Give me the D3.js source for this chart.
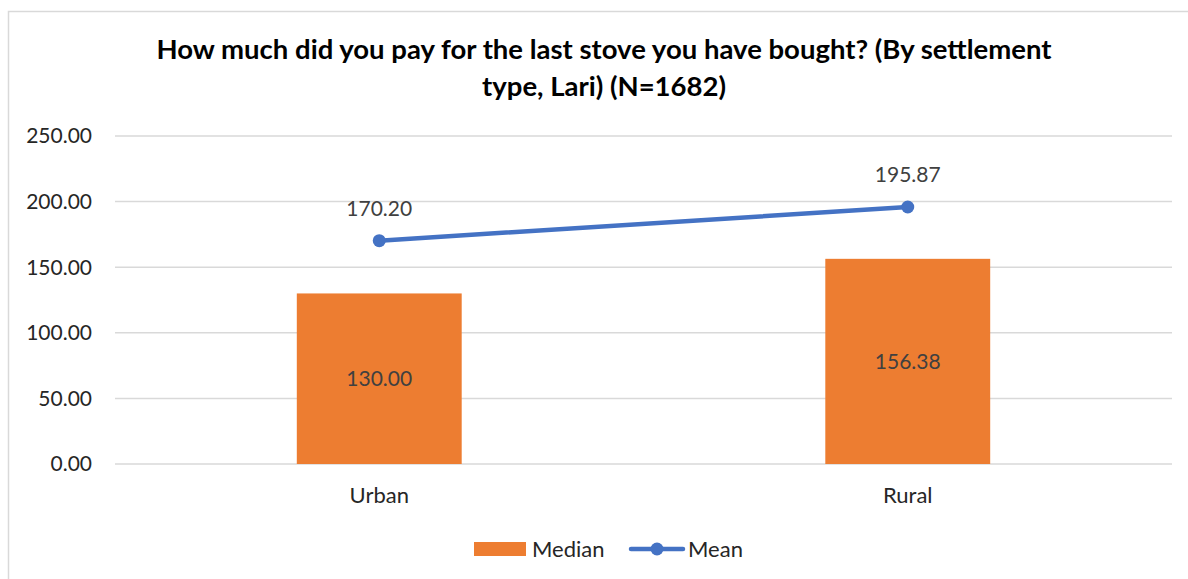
<!DOCTYPE html>
<html>
<head>
<meta charset="utf-8">
<script src="https://cdn.jsdelivr.net/npm/d3@7"></script>
<style>
  body { margin: 0; background: #fff; }
  text { font-family: Lato, "Open Sans", sans-serif; }
</style>
</head>
<body>
<div id="chart"></div>
<script>
const width = 1188;
const height = 579;

// data
const categories = ["Urban", "Rural"];
const medianValues = [130.00, 156.38];
const meanValues = [170.20, 195.87];
const yTicks = [0, 50, 100, 150, 200, 250];
const seriesNames = ["Median", "Mean"];

const orange = "#ED7D31";
const blue = "#4472C4";
const numSize = 21;
const wordSize = 22;

const margin = {left: 115, right: 16, top: 136, bottom: 115};

const svg = d3.select("#chart")
  .append("svg")
    .attr("width", width)
    .attr("height", height);

// chart frame
svg.append("rect")
    .attr("x", 8.5)
    .attr("y", 11.5)
    .attr("width", width + 10)
    .attr("height", height + 10)
    .attr("fill", "white")
    .attr("stroke", "#D9D9D9")
    .attr("stroke-width", 1.5);

const x = d3.scaleBand()
    .domain(categories)
    .range([margin.left, width - margin.right])
    .paddingInner(0.688)
    .paddingOuter(0.344);

const xc = d3.scalePoint()
    .domain(categories)
    .range([margin.left, width - margin.right])
    .padding(0.5);

const y = d3.scaleLinear()
    .domain([0, 250])
    .range([height - margin.bottom, margin.top]);

// gridlines
svg.append("g")
  .selectAll("line")
  .data(yTicks)
  .join("line")
    .attr("x1", margin.left)
    .attr("x2", width - margin.right)
    .attr("y1", d => y(d))
    .attr("y2", d => y(d))
    .attr("stroke", "#D9D9D9")
    .attr("stroke-width", 1.5);

// y tick labels
svg.append("g")
  .selectAll("text")
  .data(yTicks)
  .join("text")
    .attr("x", 92)
    .attr("y", d => y(d))
    .attr("dy", "0.35em")
    .attr("text-anchor", "end")
    .attr("font-size", numSize)
    .attr("fill", "#262626")
    .text(d => d3.format(".2f")(d));

// bars
svg.append("g")
  .selectAll("rect")
  .data(medianValues)
  .join("rect")
    .attr("x", (d, i) => x(categories[i]))
    .attr("width", x.bandwidth())
    .attr("y", d => y(d))
    .attr("height", d => y(0) - y(d))
    .attr("fill", orange);

svg.append("g")
  .selectAll("text")
  .data(medianValues)
  .join("text")
    .attr("x", (d, i) => xc(categories[i]))
    .attr("y", d => (y(d) + y(0)) / 2)
    .attr("dy", "0.35em")
    .attr("text-anchor", "middle")
    .attr("font-size", numSize)
    .attr("fill", "#404040")
    .text(d => d3.format(".2f")(d));

// mean line
const line = d3.line()
    .x((d, i) => xc(categories[i]))
    .y(d => y(d));

svg.append("path")
    .datum(meanValues)
    .attr("d", line)
    .attr("fill", "none")
    .attr("stroke", blue)
    .attr("stroke-width", 4.5)
    .attr("stroke-linecap", "round");

svg.append("g")
  .selectAll("circle")
  .data(meanValues)
  .join("circle")
    .attr("cx", (d, i) => xc(categories[i]))
    .attr("cy", d => y(d))
    .attr("r", 6.5)
    .attr("fill", blue);

svg.append("g")
  .selectAll("text")
  .data(meanValues)
  .join("text")
    .attr("x", (d, i) => xc(categories[i]))
    .attr("y", d => y(d) - 32)
    .attr("dy", "0.35em")
    .attr("text-anchor", "middle")
    .attr("font-size", numSize)
    .attr("fill", "#404040")
    .text(d => d3.format(".2f")(d));

// category labels
svg.append("g")
  .selectAll("text")
  .data(categories)
  .join("text")
    .attr("x", d => xc(d))
    .attr("y", 495)
    .attr("dy", "0.35em")
    .attr("text-anchor", "middle")
    .attr("font-size", wordSize)
    .attr("fill", "#262626")
    .text(d => d);

// title
const title = svg.append("text")
    .attr("text-anchor", "middle")
    .attr("font-size", 27.5)
    .attr("font-weight", "bold")
    .attr("fill", "#000");
title.append("tspan")
    .attr("x", 604)
    .attr("y", 59)
    .text("How much did you pay for the last stove you have bought? (By settlement");
title.append("tspan")
    .attr("x", 604)
    .attr("y", 96)
    .text("type, Lari) (N=1682)");

// legend
const legend = svg.append("g");
legend.append("rect")
    .attr("x", 474)
    .attr("y", 542)
    .attr("width", 52)
    .attr("height", 14)
    .attr("fill", orange);
legend.append("text")
    .attr("x", 532)
    .attr("y", 549)
    .attr("dy", "0.35em")
    .attr("font-size", wordSize)
    .attr("fill", "#262626")
    .text(seriesNames[0]);
legend.append("line")
    .attr("x1", 631)
    .attr("x2", 683)
    .attr("y1", 549)
    .attr("y2", 549)
    .attr("stroke", blue)
    .attr("stroke-width", 4.5)
    .attr("stroke-linecap", "round");
legend.append("circle")
    .attr("cx", 657)
    .attr("cy", 549)
    .attr("r", 6.5)
    .attr("fill", blue);
legend.append("text")
    .attr("x", 688)
    .attr("y", 549)
    .attr("dy", "0.35em")
    .attr("font-size", wordSize)
    .attr("fill", "#262626")
    .text(seriesNames[1]);
</script>
</body>
</html>
